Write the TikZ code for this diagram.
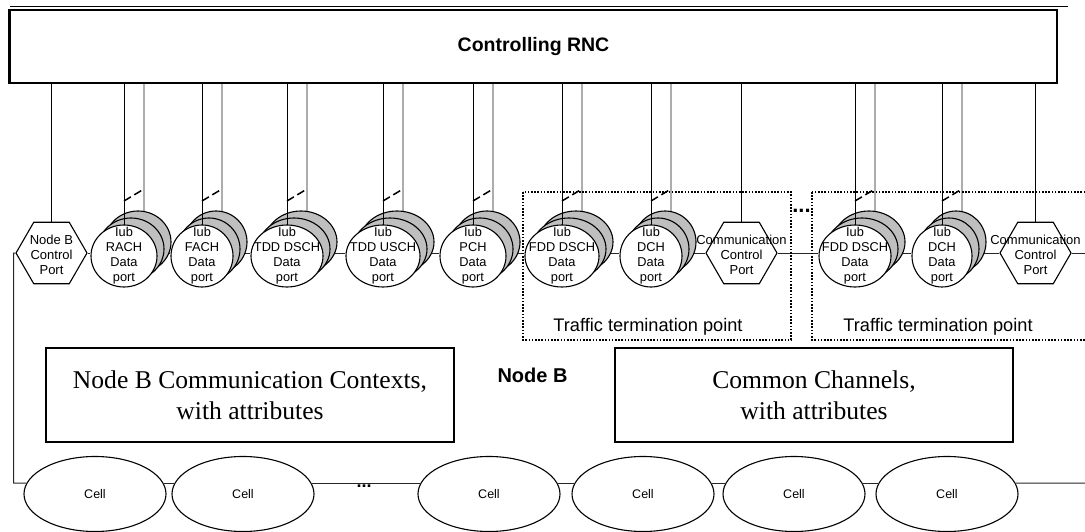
\documentclass[tikz,border=0pt]{standalone}
\usepackage{fontspec}
\setmainfont{Liberation Serif}
\newfontfamily\arialfam{Liberation Sans}
\usetikzlibrary{shapes.geometric,backgrounds}

\tikzset{
  ink/.style={draw=black, line width=1pt},
  grayline/.style={draw=black!32, line width=1.2pt},
  linkline/.style={draw=black!85, line width=1pt},
  tick/.style={draw=black, line width=1.5pt, dash pattern=on 8pt off 4pt},
  backdisc/.style={ellipse, draw=black, line width=1.1pt, fill=black!25, inner sep=0pt, minimum height=62pt},
  frontdisc/.style={ellipse, draw=black, line width=1.1pt, fill=white, inner sep=0pt, minimum height=62pt},
  portlabel/.style={font=\arialfam\fontsize{12.8}{15}\selectfont, align=center, inner sep=0pt},
  hexport/.style={regular polygon, regular polygon sides=6, draw=black, line width=1.1pt, fill=white, minimum size=71pt, inner sep=0pt},
  hexlabel/.style={font=\arialfam\fontsize{13}{15}\selectfont, align=center, inner sep=0pt},
  celloval/.style={ellipse, draw=black, line width=1.1pt, fill=white, minimum width=142pt, minimum height=75pt, inner sep=0pt, font=\arialfam\fontsize{12.5}{15}\selectfont},
  attrbox/.style={rectangle, draw=black, line width=1.5pt, fill=white, inner sep=0pt, font=\fontsize{25.6}{31}\selectfont, align=center},
  rncbox/.style={rectangle, draw=black, line width=1.3pt, fill=white, inner sep=0pt, minimum width=1047pt, minimum height=73pt, font=\arialfam\bfseries\fontsize{19.5}{23}\selectfont},
  nodeblabel/.style={font=\arialfam\bfseries\fontsize{20}{24}\selectfont, inner sep=0pt},
  ttpframe/.style={draw=black, line width=1.6pt, dash pattern=on 1.6pt off 1.6pt},
  ttplabel/.style={font=\arialfam\fontsize{18.2}{22}\selectfont, inner sep=0pt},
  gapdots/.style={font=\arialfam\bfseries\fontsize{#1}{#1}\selectfont, inner sep=0pt},
}

% One Iub data port: three stacked discs, the RNC links and the label
\newcommand\portstack[4]{%
  \coordinate (#1g) at (#2+20,232);
  \coordinate (#1c) at (#2,256);
  \coordinate (#1t) at (#2,201);
  \begin{scope}[on background layer]
    \draw[grayline] (rnc.south -| #1g) -- (#1g);
  \end{scope}
  \node[backdisc, minimum width=#3pt] (#1b) at (#2+14,242) {};
  \node[backdisc, minimum width=#3pt] (#1m) at (#2+7,249) {};
  \draw[ink] (rnc.south -| #1c) -- (#1c);
  \draw[tick] (#1t) -- ++(20,-12);
  \node[frontdisc, minimum width=#3pt] (#1) at (#1c) {};
  \node[portlabel] (#1l) at (#1c) {#4};
}

\begin{document}
\begin{tikzpicture}[x=1pt,y=-1pt]
\useasboundingbox (0,0) rectangle (1085,532);

% Controlling RNC
\node[rncbox] (rnc) at (533.5,46.5) {Controlling RNC};
\coordinate (rtop1) at (10,7);
\coordinate (rtop2) at (1068,7);
\draw[line width=1pt] (rtop1) -- (rtop2);
\draw[line width=2.5pt] (rnc.north west) -- (rnc.south west);

% traffic termination point frames
\draw[ttpframe] (523,192) rectangle (791,340);
\draw[ttpframe] (812,192) rectangle (1095,340);
\node[ttplabel] (tt1) at (648,327) {Traffic termination point};
\node[ttplabel] (tt2) at (938,327) {Traffic termination point};
\node[gapdots=22] (gap1) at (801.5,211) {...};

% control ports
\node[hexport] (h1) at (51.5,253) {};
\node[hexlabel] (h1t) at (51.5,255) {Node B\\Control\\Port};
\draw[ink] (rnc.south -| h1.north) -- (h1.north);

\node[hexport] (c1) at (741.5,253) {};
\node[hexlabel] (c1t) at (741.5,255) {Communication\\Control\\Port};
\draw[ink] (rnc.south -| c1.north) -- (c1.north);

\node[hexport] (c2) at (1035.5,253) {};
\node[hexlabel] (c2t) at (1035.5,255) {Communication\\Control\\Port};
\draw[ink] (rnc.south -| c2.north) -- (c2.north);

% data ports
\portstack{p1}{124}{66}{Iub\\RACH\\Data\\port}
\portstack{p2}{202}{62}{Iub\\FACH\\Data\\port}
\portstack{p3}{287}{72}{Iub\\TDD DSCH\\Data\\port}
\portstack{p4}{383}{74}{Iub\\TDD USCH\\Data\\port}
\portstack{p5}{473}{66}{Iub\\PCH\\Data\\port}
\portstack{p6}{562}{74}{Iub\\FDD DSCH\\Data\\port}
\portstack{p7}{651}{62}{Iub\\DCH\\Data\\port}
\portstack{p8}{855}{72}{Iub\\FDD DSCH\\Data\\port}
\portstack{p9}{942}{60}{Iub\\DCH\\Data\\port}

% Node B contents
\node[attrbox, minimum width=408pt, minimum height=94pt] (ctx) at (250,395) {Node B Communication Contexts,\\with attributes};
\node[attrbox, minimum width=398pt, minimum height=94pt] (chan) at (814,395) {Common Channels,\\with attributes};
\node[nodeblabel] (nb) at (532.5,375) {Node B};

% cells
\foreach \n/\x in {1/95,2/243,3/489,4/643,5/794,6/947}
  \node[celloval] (cell\n) at (\x,494) {Cell};
\node[gapdots=18] (gap2) at (364,486) {...};

% port chain and cell bus
\coordinate (lft) at (13.5,483);
\coordinate (bedge) at (1085,483);
\coordinate (redge) at (1085,253);
\begin{scope}[on background layer]
  \draw[linkline] (h1.east) -- (h1.east -| p1.west);
  \foreach \a/\b in {p1/p2,p2/p3,p3/p4,p4/p5,p5/p6,p6/p7,p7/c1,c1/p8,p8/p9,p9/c2}
    \draw[linkline] (\a.east |- h1.east) -- (h1.east -| \b.west);
  \draw[linkline] (c2.east) -- (redge);
  \draw[linkline] (h1.west) -| (lft) -- (cell1.171);
  \foreach \a/\b in {1/2,2/3,3/4,4/5,5/6}
    \draw[linkline] (cell\a.9) -- (cell\b.171);
  \draw[linkline] (cell6.9) -- (bedge);
\end{scope}
\end{tikzpicture}
\end{document}
